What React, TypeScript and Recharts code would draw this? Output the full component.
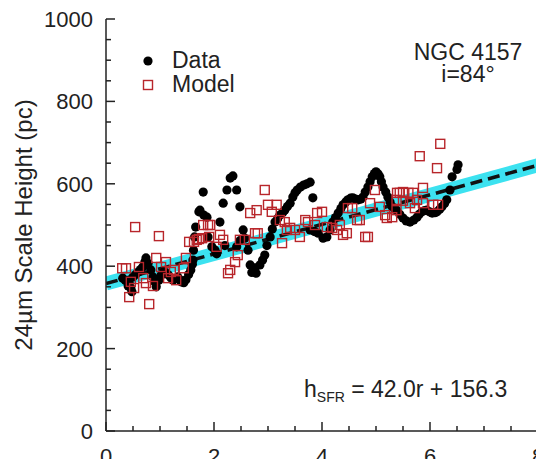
import React from 'react';
import { ComposedChart, Scatter, Line, XAxis, YAxis } from 'recharts';

// Observed 24µm scale heights (radius kpc, height pc)
const dataPoints: [number, number][] = [
  [0.31, 371], [0.36, 365], [0.41, 352], [0.43, 359], [0.46, 347], [0.48, 338], [0.5, 374],
  [0.55, 380], [0.6, 386], [0.64, 392], [0.68, 398], [0.72, 410], [0.74, 420], [0.78, 407],
  [0.83, 391], [0.87, 374], [0.9, 362], [0.93, 350], [0.98, 366], [1.02, 378], [1.07, 386],
  [1.11, 384], [1.15, 379], [1.2, 372], [1.24, 366], [1.28, 370], [1.33, 374], [1.36, 368],
  [1.39, 362], [1.44, 360], [1.48, 367], [1.53, 380], [1.57, 391], [1.6, 405], [1.61, 415],
  [1.62, 439], [1.64, 471], [1.66, 495], [1.72, 532], [1.74, 536], [1.8, 580], [1.81, 524],
  [1.87, 519], [1.89, 471], [1.96, 447], [2.02, 439], [2.05, 430], [2.11, 507], [2.17, 553],
  [2.2, 450], [2.24, 585], [2.3, 614], [2.35, 619], [2.42, 585], [2.42, 447], [2.48, 544],
  [2.48, 462], [2.54, 488], [2.57, 468], [2.63, 439], [2.67, 403], [2.7, 385], [2.76, 396],
  [2.78, 383], [2.85, 403], [2.9, 415], [2.94, 427], [2.98, 450], [3.04, 471], [3.08, 490],
  [3.13, 507], [3.18, 516], [3.22, 524], [3.27, 530], [3.31, 536], [3.36, 545], [3.41, 553],
  [3.46, 568], [3.5, 578], [3.54, 585], [3.6, 592], [3.66, 597], [3.72, 600], [3.78, 604],
  [3.83, 566], [3.78, 488], [3.86, 484], [3.93, 480], [4.02, 468], [4.09, 471], [4.15, 488],
  [4.2, 507], [4.25, 518], [4.3, 529], [4.35, 540], [4.39, 549], [4.44, 556], [4.48, 561],
  [4.53, 565], [4.57, 566], [4.62, 563], [4.67, 561], [4.72, 563], [4.76, 568], [4.8, 580],
  [4.85, 592], [4.89, 605], [4.93, 617], [4.97, 625], [5.0, 629], [5.04, 624], [5.07, 617],
  [5.1, 605], [5.13, 592], [5.18, 580], [5.22, 568], [5.26, 556], [5.3, 544], [5.34, 540],
  [5.38, 536], [5.44, 526], [5.5, 517], [5.56, 510], [5.63, 507], [5.7, 512], [5.76, 519],
  [5.8, 526], [5.85, 532], [5.9, 535], [5.94, 536], [5.99, 532], [6.04, 529], [6.09, 530],
  [6.13, 532], [6.18, 538], [6.22, 544], [6.27, 552], [6.31, 561], [6.37, 585], [6.41, 617],
  [6.5, 635], [6.52, 646],
];

// Model scale heights
const modelPoints: [number, number][] = [
  [0.3, 395], [0.37, 395], [0.43, 325], [0.46, 362], [0.52, 347], [0.54, 495], [0.61, 398],
  [0.69, 371], [0.74, 359], [0.8, 308], [0.87, 352], [0.93, 420], [0.98, 473], [1.02, 398],
  [1.11, 410], [1.15, 371], [1.2, 386], [1.26, 391], [1.3, 366], [1.44, 395], [1.48, 420],
  [1.54, 459], [1.63, 459], [1.68, 464], [1.72, 466], [1.78, 468], [1.8, 500], [1.89, 500],
  [1.93, 500], [1.91, 471], [2.05, 447], [2.11, 476], [2.17, 464], [2.26, 383], [2.3, 391],
  [2.39, 410], [2.44, 427], [2.48, 464], [2.57, 464], [2.67, 529], [2.76, 480], [2.79, 536],
  [2.81, 480], [2.94, 585], [3.0, 549], [3.07, 532], [3.16, 549], [3.22, 512], [3.26, 456],
  [3.31, 507], [3.35, 488], [3.41, 493], [3.5, 488], [3.59, 471], [3.69, 512], [3.74, 507],
  [3.87, 500], [3.91, 529], [4.0, 532], [4.09, 495], [4.19, 493], [4.28, 488], [4.33, 500],
  [4.39, 476], [4.46, 480], [4.48, 541], [4.56, 541], [4.65, 512], [4.7, 512], [4.8, 471],
  [4.85, 471], [4.89, 553], [4.98, 585], [5.07, 544], [5.17, 524], [5.2, 517], [5.3, 519],
  [5.38, 536], [5.39, 578], [5.38, 561], [5.44, 578], [5.5, 580], [5.5, 559], [5.6, 578],
  [5.63, 553], [5.69, 578], [5.72, 541], [5.76, 561], [5.81, 667], [5.87, 590], [5.87, 553],
  [6.06, 549], [6.13, 638], [6.15, 549], [6.19, 697],
];

// Linear fit (end points over the plotted range)
const fitLine = [
  { x: 0, y: 358 },
  { x: 8, y: 645 },
];

const xTicks = [0, 0.5, 1, 1.5, 2, 2.5, 3, 3.5, 4, 4.5, 5, 5.5, 6, 6.5, 7, 7.5, 8];
const xLabels = [0, 2, 4, 6, 8];
const yTicks = [0, 50, 100, 150, 200, 250, 300, 350, 400, 450, 500, 550, 600, 650, 700, 750, 800, 850, 900, 950, 1000];
const yLabels = [0, 200, 400, 600, 800, 1000];

const dataSeries = dataPoints.map(([x, y]) => ({ x, y }));
const modelSeries = modelPoints.map(([x, y]) => ({ x, y }));

const FONT = '"Liberation Sans", Arial, Helvetica, sans-serif';
const INK = '#222';
const RED = '#b8262b';
const CYAN = '#3ce2f0';

const BottomTick = (props: any) => {
  const { x, y, payload } = props;
  const major = xLabels.includes(payload.value);
  return (
    <g>
      <line x1={x} y1={y} x2={x} y2={y - (major ? 9 : 5)} stroke={INK} strokeWidth={1.5} />
      {major && (
        <text x={x} y={y + 33} textAnchor="middle" fontSize={22} fontFamily={FONT} fill={INK}>
          {payload.value}
        </text>
      )}
    </g>
  );
};

const TopTick = (props: any) => {
  const { x, y, payload } = props;
  const major = xLabels.includes(payload.value);
  return <line x1={x} y1={y} x2={x} y2={y + (major ? 9 : 5)} stroke={INK} strokeWidth={1.5} />;
};

const LeftTick = (props: any) => {
  const { x, y, payload } = props;
  const major = yLabels.includes(payload.value);
  return (
    <g>
      <line x1={x} y1={y} x2={x + (major ? 9 : 5)} y2={y} stroke={INK} strokeWidth={1.5} />
      {major && (
        <text x={x - 13} y={y + 8} textAnchor="end" fontSize={22} fontFamily={FONT} fill={INK}>
          {payload.value}
        </text>
      )}
    </g>
  );
};

const RightTick = (props: any) => {
  const { x, y, payload } = props;
  const major = yLabels.includes(payload.value);
  return <line x1={x} y1={y} x2={x - (major ? 9 : 5)} y2={y} stroke={INK} strokeWidth={1.5} />;
};

const Dot = (props: any) => <circle cx={props.cx} cy={props.cy} r={4.6} fill="#000" />;
const Square = (props: any) => (
  <rect x={props.cx - 4.5} y={props.cy - 4.5} width={9} height={9} fill="none" stroke={RED} strokeWidth={1.4} />
);

export default function App() {
  return (
    <div style={{ position: 'relative', width: 536, height: 451 }}>
      <ComposedChart width={536} height={459} margin={{ top: 11, right: 6, bottom: 8, left: 0 }}>
        <XAxis
          xAxisId="bottom"
          type="number"
          dataKey="x"
          domain={[0, 8]}
          allowDataOverflow
          ticks={xTicks}
          interval={0}
          height={28}
          tickSize={0}
          tickMargin={0}
          tickLine={false}
          tick={<BottomTick />}
          axisLine={{ stroke: INK, strokeWidth: 1.5 }}
        />
        <XAxis
          xAxisId="top"
          orientation="top"
          type="number"
          dataKey="x"
          domain={[0, 8]}
          allowDataOverflow
          ticks={xTicks}
          interval={0}
          height={0}
          tickSize={0}
          tickMargin={0}
          tickLine={false}
          tick={<TopTick />}
          axisLine={{ stroke: INK, strokeWidth: 1.5 }}
        />
        <YAxis
          yAxisId="left"
          type="number"
          dataKey="y"
          domain={[0, 1000]}
          allowDataOverflow
          ticks={yTicks}
          interval={0}
          width={98}
          tickSize={0}
          tickMargin={0}
          tickLine={false}
          tick={<LeftTick />}
          axisLine={{ stroke: INK, strokeWidth: 1.5 }}
        />
        <YAxis
          yAxisId="right"
          orientation="right"
          type="number"
          dataKey="y"
          domain={[0, 1000]}
          allowDataOverflow
          ticks={yTicks}
          interval={0}
          width={0}
          tickSize={0}
          tickMargin={0}
          tickLine={false}
          tick={<RightTick />}
          axisLine={{ stroke: INK, strokeWidth: 1.5 }}
        />
        <Line
          xAxisId="bottom"
          yAxisId="left"
          data={fitLine}
          dataKey="y"
          stroke={CYAN}
          strokeWidth={14}
          dot={false}
          activeDot={false}
          isAnimationActive={false}
          strokeLinecap="butt"
        />
        <Line
          xAxisId="top"
          yAxisId="right"
          data={fitLine}
          dataKey="y"
          stroke="#111"
          strokeWidth={3.5}
          strokeDasharray="12 6"
          dot={false}
          activeDot={false}
          isAnimationActive={false}
        />
        <Scatter
          xAxisId="bottom"
          yAxisId="left"
          data={dataSeries}
          dataKey="y"
          shape={<Dot />}
          isAnimationActive={false}
        />
        <Scatter
          xAxisId="bottom"
          yAxisId="left"
          data={modelSeries}
          dataKey="y"
          shape={<Square />}
          isAnimationActive={false}
        />
      </ComposedChart>
      <svg
        width={536}
        height={451}
        style={{ position: 'absolute', left: 0, top: 0, pointerEvents: 'none' }}
        fontFamily={FONT}
      >
        <text
          transform="translate(24,217) rotate(-90)"
          textAnchor="middle"
          fontSize={24}
          fill={INK}
        >
          24µm Scale Height (pc)
        </text>
        <circle cx={140} cy={53} r={4.6} fill="#000" />
        <text x={164} y={60} fontSize={23} fill={INK}>Data</text>
        <rect x={135.5} y={72.5} width={9} height={9} fill="none" stroke={RED} strokeWidth={1.4} />
        <text x={164} y={84} fontSize={23} fill={INK}>Model</text>
        <text x={460} y={52} textAnchor="middle" fontSize={23} fill={INK}>NGC 4157</text>
        <text x={460} y={74} textAnchor="middle" fontSize={23} fill={INK}>i=84°</text>
        <text x={296} y={389} fontSize={23} fill={INK}>
          h
          <tspan fontSize={14} dy={5}>SFR</tspan>
          <tspan dy={-5}> = 42.0r + 156.3</tspan>
        </text>
      </svg>
    </div>
  );
}
